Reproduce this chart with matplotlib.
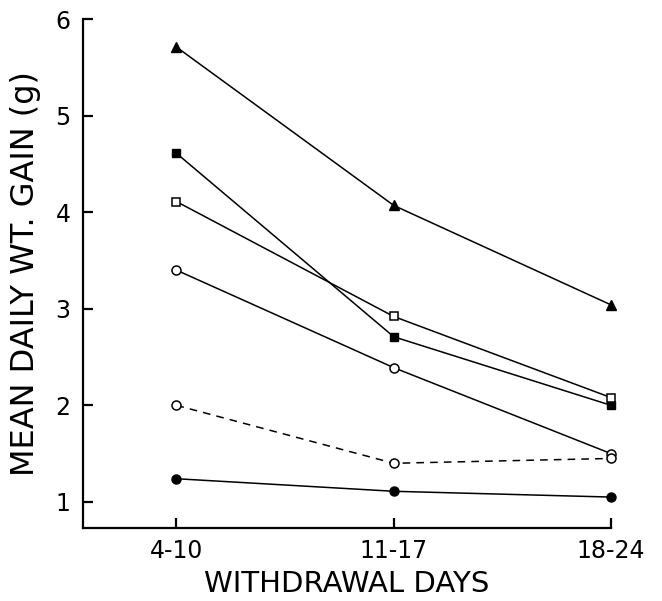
import numpy as np
import matplotlib
matplotlib.use("Agg")
import matplotlib.pyplot as plt

# ---------- Data ----------
periods = ["4-10", "11-17", "18-24"]

tri_filled = [5.71, 4.07, 3.04]
sq_filled = [4.61, 2.71, 2.00]
sq_open = [4.11, 2.92, 2.08]
circ_open = [3.40, 2.39, 1.50]
circ_open_dash = [2.00, 1.40, 1.45]
circ_filled = [1.24, 1.11, 1.05]

# ---------- Plot ----------
plt.rcParams["font.family"] = "DejaVu Sans"
fig = plt.figure(figsize=(6.62, 6.01), dpi=100)
ax = fig.add_axes([0.1254, 0.1215, 0.7976, 0.8468])

x = np.arange(len(periods))
lw = 1.1
ms = 6.5
common = dict(color="black", lw=lw, clip_on=False, zorder=3)

ax.plot(x, tri_filled, "-", marker="^", ms=ms, mfc="black", mec="black", **common)
ax.plot(x, sq_filled, "-", marker="s", ms=ms - 0.5, mfc="black", mec="black", **common)
ax.plot(x, sq_open, "-", marker="s", ms=ms - 0.5, mfc="white", mec="black",
        mew=1.1, **common)
ax.plot(x, circ_open, "-", marker="o", ms=ms, mfc="white", mec="black",
        mew=1.1, **common)
ax.plot(x, circ_open_dash, ls=(0, (5, 4)), marker="o", ms=ms, mfc="white",
        mec="black", mew=1.1, **common)
ax.plot(x, circ_filled, "-", marker="o", ms=ms, mfc="black", mec="black", **common)

ax.set_xlim(-0.43, 2.0)
ax.set_ylim(0.73, 6.0)

ax.spines["top"].set_visible(False)
ax.spines["right"].set_visible(False)
ax.spines["left"].set_linewidth(1.6)
ax.spines["bottom"].set_linewidth(1.6)

ax.set_xticks(x)
ax.set_xticklabels(periods)
ax.set_yticks([1, 2, 3, 4, 5, 6])
ax.tick_params(direction="in", length=7, width=1.6, labelsize=17, pad=8)
ax.tick_params(axis="y", pad=9)

ax.set_xlabel("WITHDRAWAL DAYS", fontsize=21, labelpad=5)
ax.set_ylabel("MEAN DAILY WT. GAIN (g)", fontsize=23, labelpad=10)

fig.savefig("out.png", dpi=100)
